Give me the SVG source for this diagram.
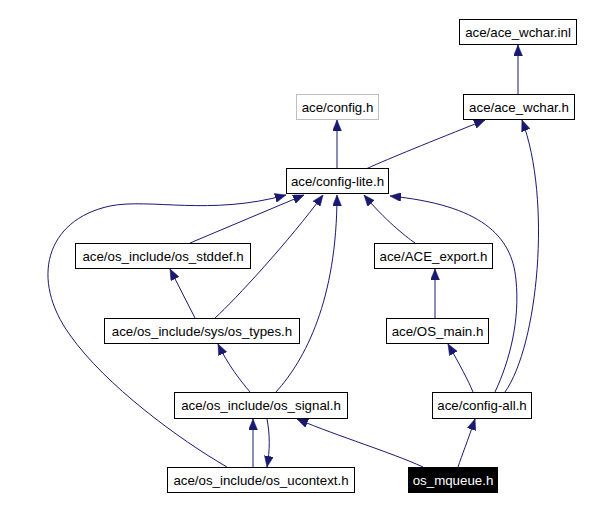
<svg xmlns="http://www.w3.org/2000/svg" width="599" height="510" viewBox="0 0 599 510">
<style>
.n rect{fill:#fff;stroke:#000;stroke-width:1}
.n text{font-family:"Liberation Sans",Arial,sans-serif;font-size:13.3px;text-anchor:middle;fill:#000}
.g rect{stroke:#bfbfbf}
.h rect{fill:#000}
.h text{fill:#fff}
#edges path{fill:none;stroke:#191970;stroke-width:1;marker-end:url(#ah)}
</style>
<defs>
<marker id="ah" markerUnits="userSpaceOnUse" markerWidth="11" markerHeight="9" viewBox="0 0 11 9" refX="11" refY="4.5" orient="auto">
<path d="M0,0 L11,4.5 L0,9 z" fill="#191970" stroke="#191970" stroke-width="0.5"/>
</marker>
</defs>
<rect width="599" height="510" fill="#fff"/>
<g id="edges">
<path d="M518,94 L518,45"/>
<path d="M337,168 L337,120"/>
<path d="M367,168.5 C390,158 430,142 485,120"/>
<path d="M505,392 C538,345 552,200 522,120"/>
<path d="M495,392 C510,360 520,320 516,280 C512,235 480,205 390,196"/>
<path d="M415,243 C405,236 385,220 364,195"/>
<path d="M190,243 L304,195"/>
<path d="M215,318 C235,300 290,240 323,195"/>
<path d="M276,392 C305,360 337,300 337,195"/>
<path d="M227,467 C180,440 105,385 70,335 C30,280 45,220 110,206 C150,198 210,216 286,195"/>
<path d="M253,467 L253,419"/>
<path d="M267,419 C270,435 270,450 267,467"/>
<path d="M423,467 C390,452 340,437 297,419"/>
<path d="M458,467 C462,455 468,440 475,419"/>
<path d="M250,392 C240,380 228,365 218,344"/>
<path d="M473,392 C468,380 460,365 448,344"/>
<path d="M435,318 L435,269"/>
<path d="M195,318 L170,269"/>
</g>
<g id="ace_wchar_inl" class="n"><rect x="459.5" y="19.5" width="117" height="25"/><text x="518" y="36.7">ace/ace_wchar.inl</text></g>
<g id="ace_wchar_h" class="n"><rect x="463.5" y="94.5" width="111" height="25"/><text x="519" y="111.7">ace/ace_wchar.h</text></g>
<g id="config_h" class="n g"><rect x="296.5" y="94.5" width="82" height="25"/><text x="337.5" y="111.7">ace/config.h</text></g>
<g id="config_lite_h" class="n"><rect x="286.5" y="168.5" width="102" height="25"/><text x="337.5" y="185.7">ace/config-lite.h</text></g>
<g id="os_stddef_h" class="n"><rect x="75.5" y="243.5" width="175" height="25"/><text x="163" y="260.7">ace/os_include/os_stddef.h</text></g>
<g id="ACE_export_h" class="n"><rect x="374.5" y="243.5" width="118" height="25"/><text x="433.5" y="260.7">ace/ACE_export.h</text></g>
<g id="os_types_h" class="n"><rect x="104.5" y="318.5" width="195" height="25"/><text x="202" y="335.7">ace/os_include/sys/os_types.h</text></g>
<g id="OS_main_h" class="n"><rect x="386.5" y="318.5" width="102" height="25"/><text x="437.5" y="335.7">ace/OS_main.h</text></g>
<g id="os_signal_h" class="n"><rect x="174.5" y="392.5" width="173" height="26"/><text x="261" y="410.2">ace/os_include/os_signal.h</text></g>
<g id="config_all_h" class="n"><rect x="432.5" y="392.5" width="99" height="26"/><text x="482" y="410.2">ace/config-all.h</text></g>
<g id="os_ucontext_h" class="n"><rect x="167.5" y="467.5" width="187" height="25"/><text x="261" y="484.7">ace/os_include/os_ucontext.h</text></g>
<g id="os_mqueue_h" class="n h"><rect x="408.5" y="467.5" width="89" height="25"/><text x="453" y="484.7">os_mqueue.h</text></g>
</svg>
